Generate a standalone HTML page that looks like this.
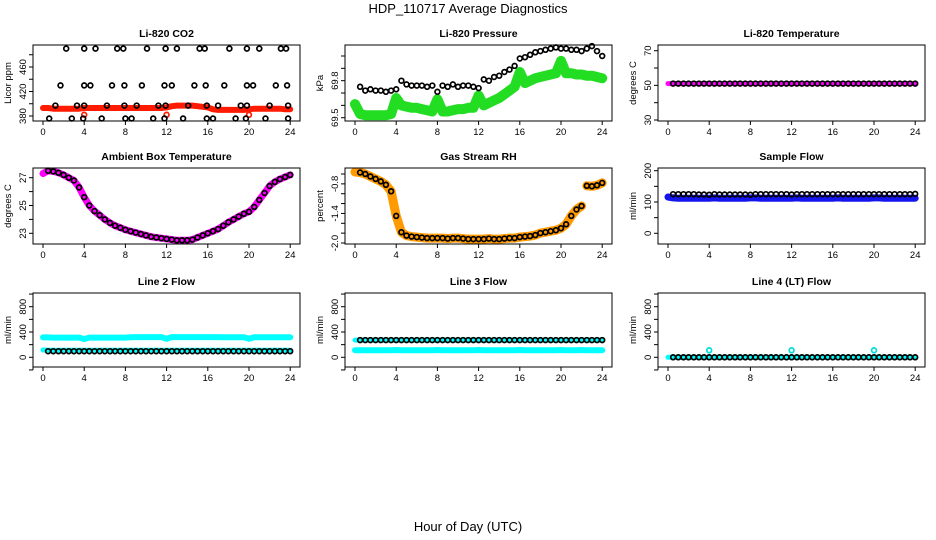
<!DOCTYPE html>
<html><head><meta charset="utf-8"><style>
html,body{margin:0;padding:0;background:#fff;}
svg{display:block;font-family:"Liberation Sans",Arial,sans-serif;}
</style></head><body>
<svg id="c" width="936" height="540" viewBox="0 0 936 540">
<text x="468" y="13" font-size="13" text-anchor="middle">HDP_110717  Average Diagnostics</text>
<text x="468" y="531" font-size="13" text-anchor="middle">Hour of Day (UTC)</text>
</svg>
<script>
const H = [0,0.5,1,1.5,2,2.5,3,3.5,4,4.5,5,5.5,6,6.5,7,7.5,8,8.5,9,9.5,10,10.5,11,11.5,12,12.5,13,13.5,14,14.5,15,15.5,16,16.5,17,17.5,18,18.5,19,19.5,20,20.5,21,21.5,22,22.5,23,23.5,24];
const xTicks = [0,4,8,12,16,20,24];

// CO2
const co2TopH = [2.25,4.0,5.1,7.2,7.8,10.1,11.9,13.0,15.2,15.7,18.1,19.8,21.0,23.1,23.6];
const co2TopV = [490,490,490,490,490,490,490,490,490,490,490,490,490,490,490];
const co2MidH = [1.7,4.0,4.6,6.7,7.9,9.6,11.8,12.5,14.7,15.8,17.6,19.8,20.4,22.6,23.7];
const co2MidV = [430,430,430,430,430,430,430,430,430,430,430,430,430,430,430];
const co2LowH = [1.2,3.3,4.0,6.2,7.9,9.1,11.2,11.9,14.1,15.9,17.0,19.2,19.8,22.0,23.8];
const co2LowV = [397,397,397,397,397,397,397,397,397,397,397,397,397,397,397];
const co2BotH = [0.6,2.8,3.9,5.7,8.0,8.6,10.7,11.8,13.6,15.9,16.5,18.7,19.7,21.6,23.8];
const co2BotV = [376,376,376,376,376,376,376,376,376,376,376,376,376,376,376];
const co2RedPtH = [4,12,20];
const co2RedPtV = [382,382,382];
const co2Band = [393,393,392,392,392,392,392,392,393,393,393,393,393,393,393,393,393,393,393,393,393,393,393,393,394,396,397,397,397,397,396,395,394,391,390,390,390,390,390,390,391,392,392,392,392,392,392,391,391];

// Pressure
const presBlack = [null,69.75,69.72,69.73,69.72,69.72,69.71,69.72,69.73,69.8,69.77,69.76,69.76,69.76,69.75,69.76,69.71,69.76,69.75,69.77,69.75,69.76,69.76,69.75,69.74,69.81,69.8,69.83,69.84,69.87,69.89,69.92,69.98,69.99,70.01,70.03,70.04,70.05,70.06,70.07,70.06,70.06,70.05,70.05,70.04,70.06,70.08,70.04,70.0];
const presGreen = [69.61,69.53,69.52,69.52,69.52,69.52,69.52,69.53,69.66,69.6,69.59,69.58,69.58,69.57,69.56,69.55,69.65,69.55,69.55,69.56,69.57,69.57,69.58,69.58,69.68,69.6,69.62,69.64,69.66,69.69,69.72,69.75,69.87,69.78,69.8,69.82,69.83,69.84,69.85,69.86,69.96,69.86,69.86,69.85,69.85,69.84,69.84,69.83,69.82];

// Li-820 temperature
const tempBlack = [null,51,51,51,51,51,51,51,51,51,51,51,51,51,51,51,51,51,51,51,51,51,51,51,51,51,51,51,51,51,51,51,51,51,51,51,51,51,51,51,51,51,51,51,51,51,51,51,51];
const tempMag = [51,51,51,51,51,51,51,51,51,51,51,51,51,51,51,51,51,51,51,51,51,51,51,51,51,51,51,51,51,51,51,51,51,51,51,51,51,51,51,51,51,51,51,51,51,51,51,51,51];

// Ambient box temperature
const ambVals = [27.3,27.5,27.45,27.35,27.2,27.0,26.8,26.3,25.6,25.0,24.6,24.3,24.0,23.75,23.55,23.4,23.25,23.15,23.05,22.95,22.85,22.75,22.7,22.65,22.6,22.55,22.5,22.5,22.5,22.55,22.7,22.85,23.0,23.15,23.3,23.55,23.8,24.0,24.2,24.4,24.55,24.9,25.4,25.9,26.4,26.7,26.9,27.05,27.2];

// Gas stream RH
const rhVals = [-0.56,-0.57,-0.6,-0.65,-0.7,-0.75,-0.82,-0.95,-1.45,-1.78,-1.85,-1.87,-1.88,-1.89,-1.9,-1.9,-1.9,-1.9,-1.91,-1.9,-1.9,-1.91,-1.92,-1.92,-1.92,-1.92,-1.91,-1.92,-1.92,-1.91,-1.9,-1.9,-1.88,-1.87,-1.86,-1.84,-1.8,-1.78,-1.76,-1.74,-1.7,-1.62,-1.45,-1.32,-1.25,-0.84,-0.85,-0.83,-0.78];

// Sample flow
const sfBlack = [null,125,125,125,125,125,124,124,123,125,124,124,124,124,124,124,123,125,125,125,125,125,125,125,124,125,125,125,125,125,125,125,125,125,125,125,125,125,125,125,125,125,125,125,125,125,125,125,126];
const sfBlue = [116,113,112,112,112,112,112,112,112,113,112,112,112,112,112,112,113,113,112,112,112,112,112,112,112,113,112,112,112,112,112,112,112,113,112,112,112,112,112,112,113,113,112,112,112,112,112,112,112];

// Line 2 flow
const l2CyanHi = [315,315,312,312,312,312,312,312,290,312,312,312,312,312,312,312,312,318,320,320,320,320,320,320,292,320,320,320,320,320,320,320,320,320,320,318,316,316,316,316,292,316,316,316,316,316,316,316,316];
const l2CyanLo = [115,112,110,110,110,110,110,110,112,110,110,110,110,110,110,110,112,110,110,110,110,110,110,110,112,110,110,110,110,110,110,110,112,110,110,110,110,110,110,110,112,110,110,110,110,110,110,110,110];
const l2Black = [null,96,96,96,96,96,96,96,96,96,96,96,96,96,96,96,96,96,96,96,96,96,96,96,96,96,96,96,96,96,96,96,96,96,96,96,96,96,96,96,96,96,96,96,96,96,96,96,96];

// Line 3 flow
const l3CyanHi = [272,272,272,272,272,272,272,272,272,272,272,272,272,272,272,272,272,272,272,272,272,272,272,272,272,272,272,272,272,272,272,272,272,272,272,272,272,272,272,272,272,272,272,272,272,272,272,272,272];
const l3Black = [null,272,272,272,272,272,272,272,272,272,272,272,272,272,272,272,272,272,272,272,272,272,272,272,272,272,272,272,272,272,272,272,272,272,272,272,272,272,272,272,272,272,272,272,272,272,272,272,272];
const l3CyanLo = [112,110,110,110,110,110,110,110,115,110,110,110,110,110,110,110,115,110,110,110,110,110,110,110,115,110,110,110,110,110,110,110,115,110,110,110,110,110,110,110,115,110,110,110,115,110,110,110,110];

// Line 4 flow
const l4Black = [null,0,0,0,0,0,0,0,0,0,0,0,0,0,0,0,0,0,0,0,0,0,0,0,0,0,0,0,0,0,0,0,0,0,0,0,0,0,0,0,0,0,0,0,0,0,0,0,0];
const l4Cyan = [0,0,0,0,0,0,0,0,0,0,0,0,0,0,0,0,0,0,0,0,0,0,0,0,0,0,0,0,0,0,0,0,0,0,0,0,0,0,0,0,0,0,0,0,0,0,0,0,0];
const l4SpikeH = [4,12,20];
const l4SpikeV = [110,110,110];

const svg = document.getElementById('c');
const NS = 'http://www.w3.org/2000/svg';
function mk(tag, attrs, parent){
  const e = document.createElementNS(NS, tag);
  for (const k in attrs) e.setAttribute(k, attrs[k]);
  (parent||svg).appendChild(e);
  return e;
}
const COLS = [33,345,658], ROWS = [[45,121],[168,244],[293,367]], W = 267;

function panel(p){
  const L = COLS[p.col], T = ROWS[p.row][0], B = ROWS[p.row][1];
  const g = mk('g', {});
  
  
  const x = h => L + 10 + h * 10.3;
  const y = v => p.pA + (v - p.vA) * (p.pB - p.pA) / (p.vB - p.vA);
  const t = mk('text', {x: L + W/2, y: T - 8, 'font-size': 10.5, 'font-weight': 'bold', 'text-anchor': 'middle'}, g);
  t.textContent = p.title;
  
  
  const plot = mk('g', {}, g);
  
  
  p.series.forEach(s => {
    const hs = s.h || H;
    if (s.type === 'band') {
      let d = '';
      let pen = false;
      s.v.forEach((v, i) => {
        if (v === null) { pen = false; return; }
        d += (pen ? 'L' : 'M') + x(hs[i]).toFixed(1) + ',' + y(v).toFixed(1);
        pen = true;
      });
      const pl = mk('path', {d: d, fill: 'none', stroke: s.color, 'stroke-width': s.w, 'stroke-linecap': 'round', 'stroke-linejoin': 'round'}, plot);
      
      
    } else {
      s.v.forEach((v, i) => {
        if (v === null) return;
        const c = mk('circle', {cx: x(hs[i]).toFixed(1), cy: y(v).toFixed(1), r: s.r || 2.4, fill: 'none', stroke: s.color, 'stroke-width': s.sw || 1.7}, plot);
        
        
      });
    }
  });
  const box = mk('rect', {x: L, y: T, width: W, height: B - T, fill: 'none', stroke: '#000', 'stroke-width': 1}, g);
  
  
  const xa = mk('g', {}, g);
  
  
  mk('line', {x1: x(0), x2: x(24), y1: B, y2: B, stroke: '#000'}, xa);
  xTicks.forEach(h => {
    mk('line', {x1: x(h), x2: x(h), y1: B, y2: B + 4, stroke: '#000'}, xa);
    const tl = mk('text', {x: x(h), y: B + 14, 'font-size': 9.5, 'text-anchor': 'middle'}, xa);
    tl.textContent = h;
    
    
  });
  const ya = mk('g', {}, g);
  
  
  const t0 = y(p.ticks[0]), t1 = y(p.ticks[p.ticks.length - 1]);
  mk('line', {x1: L, x2: L, y1: t0, y2: t1, stroke: '#000'}, ya);
  p.ticks.forEach(v => {
    mk('line', {x1: L - 4, x2: L, y1: y(v), y2: y(v), stroke: '#000'}, ya);
  });
  p.labels.forEach((v, i) => {
    const yy = y(v), xx = L - 7;
    const tl = mk('text', {x: xx, y: yy, 'font-size': 9.5, 'text-anchor': 'middle', transform: 'rotate(-90 ' + xx + ' ' + yy + ')'}, ya);
    tl.textContent = p.labelText ? p.labelText[i] : v;
    
    
  });
  const cy = (T + B) / 2, cx = L - 22;
  const yt = mk('text', {x: cx, y: cy, 'font-size': 9.5, 'text-anchor': 'middle', transform: 'rotate(-90 ' + cx + ' ' + cy + ')'}, g);
  yt.textContent = p.ylab;
  
  
}

panel({name:'co2-panel', col:0, row:0, title:'Li-820 CO2', ylab:'Licor ppm', vA:380, pA:116, vB:460, pB:67,
  ticks:[380,400,420,440,460,480], labels:[380,420,460], series:[
  {type:'band', v:co2Band, color:'#ff1a00', w:6, name:'co2-red-band'},
  {type:'pts', v:co2RedPtV, h:co2RedPtH, color:'#ff1a00', name:'co2-red-point'},
  {type:'pts', v:co2TopV, h:co2TopH, color:'#000', name:'co2-point'},
  {type:'pts', v:co2MidV, h:co2MidH, color:'#000', name:'co2-point'},
  {type:'pts', v:co2LowV, h:co2LowH, color:'#000', name:'co2-point'},
  {type:'pts', v:co2BotV, h:co2BotH, color:'#000', name:'co2-point'}]});

panel({name:'pressure-panel', col:1, row:0, title:'Li-820 Pressure', ylab:'kPa', vA:69.5, pA:117.7, vB:70.0, pB:56,
  ticks:[69.5,69.6,69.7,69.8,69.9,70.0], labels:[69.5,69.8], labelText:['69.5','69.8'], series:[
  {type:'band', v:presGreen, color:'#22dd22', w:10, name:'pressure-green-band'},
  {type:'pts', v:presBlack, color:'#000', name:'pressure-point'}]});

panel({name:'li820-temp-panel', col:2, row:0, title:'Li-820 Temperature', ylab:'degrees C', vA:30, pA:120, vB:70, pB:50.7,
  ticks:[30,40,50,60,70], labels:[30,50,70], series:[
  {type:'band', v:tempMag, color:'#ff00ff', w:5, name:'temp-magenta-band'},
  {type:'pts', v:tempBlack, color:'#000', name:'temp-point'}]});

panel({name:'ambient-temp-panel', col:0, row:1, title:'Ambient Box Temperature', ylab:'degrees C', vA:23, pA:233.3, vB:27, pB:177.7,
  ticks:[23,24,25,26,27], labels:[23,25,27], series:[
  {type:'band', v:ambVals, color:'#ff00ff', w:7, name:'ambient-magenta-band'},
  {type:'pts', v:ambVals.map((v,i)=> i===0 ? null : v), color:'#000', name:'ambient-point'}]});

panel({name:'rh-panel', col:1, row:1, title:'Gas Stream RH', ylab:'percent', vA:-2.0, pA:243, vB:-0.6, pB:174,
  ticks:[-2.0,-1.8,-1.6,-1.4,-1.2,-1.0,-0.8,-0.6], labels:[-2.0,-1.4,-0.8], labelText:['-2.0','-1.4','-0.8'], series:[
  {type:'band', v:rhVals.slice(0,45).concat([null]), color:'#ff9a00', w:9, name:'rh-orange-band'},
  {type:'band', v:[null,null,null,null,null,null,null,null,null,null,null,null,null,null,null,null,null,null,null,null,null,null,null,null,null,null,null,null,null,null,null,null,null,null,null,null,null,null,null,null,null,null,null,null,null,rhVals[45],rhVals[46],rhVals[47],rhVals[48]], color:'#ff9a00', w:9, name:'rh-orange-band'},
  {type:'pts', v:rhVals.map((v,i)=> i===0 ? null : v), color:'#000', name:'rh-point'}]});

panel({name:'sample-flow-panel', col:2, row:1, title:'Sample Flow', ylab:'ml/min', vA:0, pA:233.3, vB:200, pB:170.7,
  ticks:[0,50,100,150,200], labels:[0,100,200], series:[
  {type:'band', v:sfBlue, color:'#1414ee', w:7, name:'sample-flow-blue-band'},
  {type:'pts', v:sfBlack, color:'#000', name:'sample-flow-point'}]});

panel({name:'line2-panel', col:0, row:2, title:'Line 2 Flow', ylab:'ml/min', vA:0, pA:357.3, vB:800, pB:306.7,
  ticks:[-200,0,200,400,600,800,1000], labels:[0,400,800], series:[
  {type:'band', v:l2CyanHi, color:'#00ffff', w:6, name:'line2-cyan-high'},
  {type:'band', v:l2CyanLo, color:'#00ffff', w:5, name:'line2-cyan-low'},
  {type:'pts', v:l2Black, color:'#000', name:'line2-point'}]});

panel({name:'line3-panel', col:1, row:2, title:'Line 3 Flow', ylab:'ml/min', vA:0, pA:357.3, vB:800, pB:306.7,
  ticks:[-200,0,200,400,600,800,1000], labels:[0,400,800], series:[
  {type:'band', v:l3CyanHi, color:'#00ffff', w:5, name:'line3-cyan-high'},
  {type:'band', v:l3CyanLo, color:'#00ffff', w:6, name:'line3-cyan-low'},
  {type:'pts', v:l3Black, color:'#000', name:'line3-point'}]});

panel({name:'line4-panel', col:2, row:2, title:'Line 4 (LT) Flow', ylab:'ml/min', vA:0, pA:357.3, vB:800, pB:306.7,
  ticks:[-200,0,200,400,600,800,1000], labels:[0,400,800], series:[
  {type:'band', v:l4Cyan, color:'#00ffff', w:5, name:'line4-cyan-band'},
  {type:'pts', v:l4SpikeV, h:l4SpikeH, color:'#00dddd', name:'line4-cyan-spike'},
  {type:'pts', v:l4Black, color:'#000', name:'line4-point'}]});
</script>
</body></html>
